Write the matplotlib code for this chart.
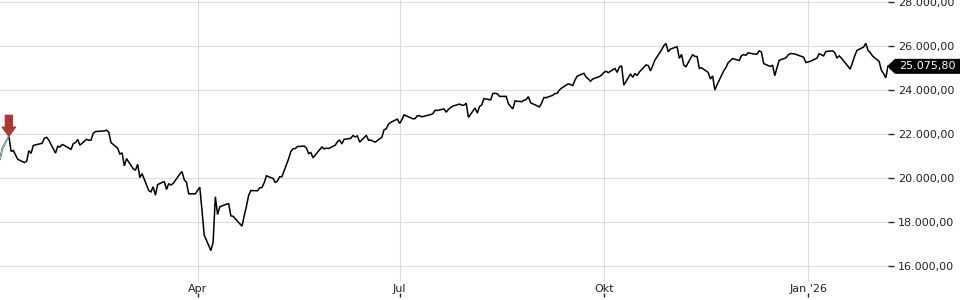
import matplotlib
matplotlib.use('Agg')
import matplotlib.pyplot as plt
import matplotlib.transforms as mtransforms
from matplotlib.patches import Polygon
import pandas as pd

# trading-day closes (one list per month)
jan25 = [20850, 21330, 21900, 21210, 21250, 20850, 20700, 20760, 21240, 21120,
         21480, 21580, 21810, 21850, 21720, 21130, 21440, 21410, 21520, 21480]
feb25 = [21300, 21560, 21610, 21750, 21490, 21760, 21715, 21720, 22030, 22110,
         22140, 22175, 22080, 21610, 21350, 21090, 21140, 20550, 20880]
mar25 = [20420, 20350, 20630, 20020, 20200, 19430, 19370, 19600, 19220, 19700,
         19840, 19480, 19740, 19680, 19750, 20180, 20290, 19920, 19800, 19280, 19280]
apr25 = [19440, 19580, 18520, 17400, 16700, 17090, 19150, 18340, 18690, 18810,
         18830, 18280, 18260, 17810, 18280, 18710, 19210, 19430, 19420, 19550, 19570]
may25 = [19780, 20100, 19980, 19790, 19870, 20060, 20060, 20870, 21200, 21330,
         21340, 21430, 21450, 21370, 21110, 21160, 20920, 21410, 21320, 21360, 21340]
jun25 = [21490, 21650, 21720, 21550, 21760, 21800, 21930, 21870, 21910, 21630,
         21940, 21720, 21720, 21630, 21850, 22190, 22240, 22450, 22530, 22680]
jul25 = [22480, 22640, 22870, 22690, 22700, 22830, 22830, 22780, 22860, 22880,
         22930, 23080, 23070, 23140, 22990, 23120, 23200, 23270, 23360, 23310,
         23310, 23400]
aug25 = [22760, 23180, 22950, 23250, 23320, 23610, 23550, 23840, 23850, 23830,
         23710, 23710, 23380, 23250, 23140, 23500, 23470, 23530, 23570, 23700, 23420]
sep25 = [23230, 23410, 23660, 23650, 23760, 23840, 23850, 24000, 24090, 24280,
         24250, 24200, 24450, 24630, 24760, 24590, 24500, 24400, 24500, 24610, 24680]
oct25 = [24800, 24850, 24790, 24980, 24800, 25050, 25100, 24220, 24730, 24580,
         24750, 24660, 24820, 25140, 25110, 24870, 25100, 25360, 25820, 26010,
         26120, 25740, 25860]
nov25 = [25970, 25440, 25620, 25130, 25060, 25610, 25530, 25520, 24990, 25010,
         24800, 24500, 24640, 24000, 24240, 24870, 25020, 25240, 25430]
dec25 = [25340, 25560, 25610, 25580, 25690, 25630, 25630, 25780, 25720, 25200,
         25070, 25130, 24650, 25020, 25350, 25460, 25590, 25660, 25640, 25530,
         25490, 25250]
jan26 = [25300, 25450, 25650, 25600, 25550, 25750, 25780, 25700, 25450, 25550,
         25450, 24950, 25250, 25550, 25800, 25950, 26120, 25800, 25700, 25550]
feb26 = [25300, 24900, 24750, 24550, 25075.80]

holidays = ['2025-01-09', '2025-01-20', '2025-02-17', '2025-04-18', '2025-05-26',
            '2025-06-19', '2025-07-04', '2025-09-01', '2025-11-27', '2025-12-25',
            '2026-01-01', '2026-01-19']

y_ticks = [16000, 18000, 20000, 22000, 24000, 26000, 28000]
x_ticks = ['2025-04-01', '2025-07-01', '2025-10-01', '2026-01-01']
x_labels = ['Apr', 'Jul', 'Okt', "Jan '26"]

values = (jan25 + feb25 + mar25 + apr25 + may25 + jun25 + jul25 + aug25
          + sep25 + oct25 + nov25 + dec25 + jan26 + feb26)
dates = pd.bdate_range('2025-01-02', '2026-02-06', freq='C', holidays=holidays)
assert len(dates) == len(values), (len(dates), len(values))


def fmt(v):
    s = '{:,.2f}'.format(v)
    return s.replace(',', 'X').replace('.', ',').replace('X', '.')


plt.rcParams['font.family'] = ['DejaVu Sans']

fig = plt.figure(figsize=(9.6, 3), dpi=100)
ax = fig.add_axes([0, 0.06, 888 / 960, 0.94])

ax.plot(dates, values, color='black', lw=1.1, solid_joinstyle='miter', zorder=3)
ax.plot(dates[:3], values[:3], color='#8cc8c8', lw=0.9, zorder=4)

ax.set_xlim(dates[0], dates[-1])
ax.set_ylim(15273, 28091)

xt = pd.to_datetime(x_ticks)
ax.set_xticks(xt)
ax.set_xticklabels(x_labels)
ax.set_yticks(y_ticks)
ax.set_yticklabels([fmt(v) for v in y_ticks])
ax.yaxis.tick_right()
ax.tick_params(axis='y', direction='out', length=4, width=1, color='#222',
               pad=3, labelsize=8, labelcolor='#222')
ax.tick_params(axis='x', length=0, pad=1.5, labelsize=8, labelcolor='#222')
ax.grid(True, color='#dcdcdc', lw=0.8)
ax.set_axisbelow(True)
for s in ax.spines.values():
    s.set_visible(False)

# small marks under the month labels
trans_x = mtransforms.blended_transform_factory(ax.transData, ax.transAxes)
ax.plot(xt, [-0.047] * len(xt), ls='none', marker='|', ms=3, mew=1,
        color='#222', transform=trans_x, clip_on=False)

# signal arrow at the early January high
ax.annotate('', xy=(dates[2], values[2]), xytext=(0, 15),
            textcoords='offset points',
            arrowprops=dict(arrowstyle='simple,head_length=0.65,head_width=0.95,tail_width=0.5',
                            color='#a83a32', shrinkA=0, shrinkB=0), zorder=5)

# last value label
last = values[-1]
trans_l = mtransforms.blended_transform_factory(fig.transFigure, ax.transData)
h = 7.5 * (28091 - 15273) / 282
box = Polygon([(887 / 960, last), (895 / 960, last + h), (1.0, last + h),
               (1.0, last - h), (895 / 960, last - h)],
              closed=True, fc='black', ec='none', transform=trans_l, clip_on=False)
ax.add_patch(box)
ax.text(899 / 960, last, fmt(last), transform=trans_l, color='white',
        fontsize=8, va='center', ha='left', clip_on=False)

fig.savefig('out.png', dpi=100)
